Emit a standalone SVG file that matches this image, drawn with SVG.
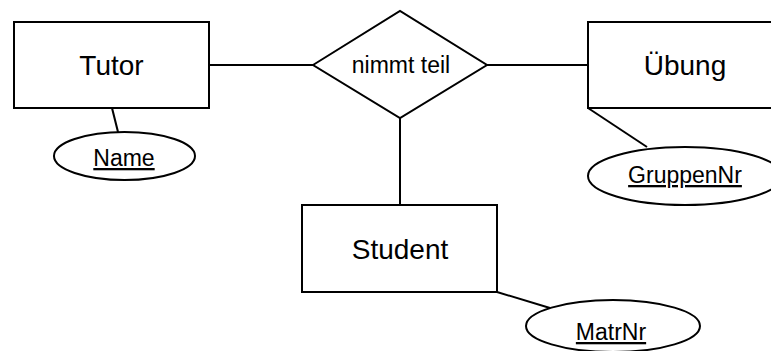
<svg xmlns="http://www.w3.org/2000/svg" width="771" height="351" viewBox="0 0 771 351">
<style>
.shape{fill:#fff;stroke:#000;stroke-width:2}
.conn line{stroke:#000;stroke-width:2}
.ent{font-family:"Liberation Sans",Arial,sans-serif;font-size:28px;text-anchor:middle;fill:#000}
.rel{font-family:"Liberation Sans",Arial,sans-serif;font-size:23px;text-anchor:middle;fill:#000}
.attr{font-family:"Liberation Sans",Arial,sans-serif;font-size:23px;text-anchor:middle;fill:#000;text-decoration:underline}
</style>
<rect width="771" height="351" fill="#fff"/>
<g id="connectors" class="conn">
<line x1="209" y1="65" x2="313" y2="65"/>
<line x1="487" y1="65" x2="588" y2="65"/>
<line x1="400" y1="118" x2="400" y2="205"/>
<line x1="112" y1="108" x2="118" y2="132"/>
<line x1="588" y1="108" x2="647" y2="147"/>
<line x1="497" y1="292" x2="550" y2="308"/>
</g>
<g id="tutor">
<rect class="shape" x="14" y="22" width="195" height="86"/>
<text class="ent" x="111.5" y="75">Tutor</text>
</g>
<g id="nimmt-teil">
<polygon class="shape" points="313,65 400,11 487,65 400,118"/>
<text class="rel" x="401" y="73">nimmt teil</text>
</g>
<g id="uebung">
<rect class="shape" x="588" y="22" width="195" height="86"/>
<text class="ent" x="685" y="75">Übung</text>
</g>
<g id="student">
<rect class="shape" x="302" y="205" width="195" height="87"/>
<text class="ent" x="400" y="259">Student</text>
</g>
<g id="name">
<ellipse class="shape" cx="124.5" cy="156" rx="70.5" ry="24"/>
<text class="attr" x="124" y="166">Name</text>
</g>
<g id="gruppennr">
<ellipse class="shape" cx="685" cy="176" rx="97" ry="29"/>
<text class="attr" x="685" y="183">GruppenNr</text>
</g>
<g id="matrnr">
<ellipse class="shape" cx="613" cy="326" rx="87" ry="26"/>
<text class="attr" x="611" y="340">MatrNr</text>
</g>
</svg>
